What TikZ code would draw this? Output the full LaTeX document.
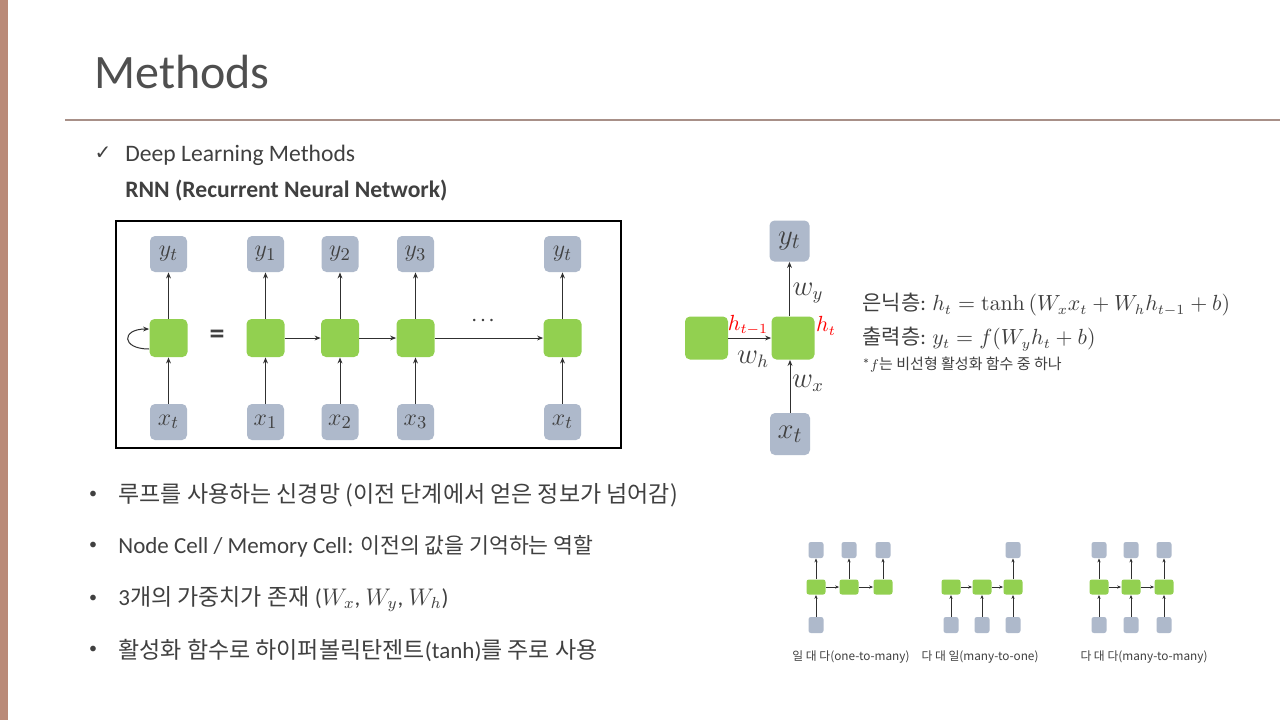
\documentclass[tikz,border=0pt]{standalone}
\usepackage[no-math]{fontspec}
\setmainfont{Carlito}
\newfontfamily\kr{Noto Sans CJK KR}
\newfontfamily\symb{DejaVu Sans}
\usetikzlibrary{arrows.meta,positioning}
\definecolor{sidebar}{HTML}{BA8A78}
\definecolor{rule}{HTML}{A89088}
\definecolor{boxgray}{HTML}{AEB9CB}
\definecolor{cellgreen}{HTML}{92D050}
\definecolor{txt}{HTML}{404040}
\definecolor{titlegray}{HTML}{4F4F4F}
\definecolor{arrowgray}{HTML}{303030}
\newcommand{\fs}[1]{\fontsize{#1}{#1}\selectfont}

\begin{document}
\begin{tikzpicture}[x=0.5pt, y=-0.5pt, text=txt,
    io/.style={rectangle, rounded corners=2.5pt, fill=boxgray, minimum width=18.5pt, minimum height=18pt, inner sep=0pt},
    cell/.style={rectangle, rounded corners=2.5pt, fill=cellgreen, minimum width=19pt, minimum height=19pt, inner sep=0pt},
    flow/.style={-{Stealth[length=3pt,width=2.4pt]}, draw=arrowgray, line width=0.5pt},
    tiny io/.style={io, minimum width=7.5pt, minimum height=8pt, rounded corners=1.2pt},
    tiny cell/.style={cell, minimum width=9.5pt, minimum height=7.5pt, rounded corners=1.2pt},
    tiny flow/.style={-{Stealth[length=2pt,width=1.6pt]}, draw=arrowgray, line width=0.4pt},
    item/.style={anchor=west, inner sep=0pt, font=\fs{11.5}}]
  \useasboundingbox (0,0) rectangle (1280,720);
  \fill[white] (0,0) rectangle (1280,720);
  % side bar and title
  \fill[sidebar] (0,0) rectangle (8,720);
  \node[anchor=west, inner sep=0pt, text=titlegray, font=\fs{24}] (title) at (94,72) {Methods};
  \draw[rule, line width=0.6pt] (65,120) -- (1280,120);
  \node[inner sep=0pt, font=\symb\fs{10}] (check) at (103,153) {✓};
  \node[item, font=\fs{11.8}] (dl) at (125,155) {Deep Learning Methods};
  \node[item, font=\fs{11.8}\bfseries] (rnn) at (125,191) {RNN (Recurrent Neural Network)};

  % folded / unfolded RNN
  \draw[black, line width=0.6pt] (116,221) rectangle (621,448);
  \begin{scope}[every node/.append style={font=\fs{12.5}}]
    \node[io] (yL) at (168.5,254) {$y_t$};
    \node[cell] (hL) at (168.5,338) {};
    \node[io] (xL) at (168.5,422) {$x_t$};
    \draw[flow] (xL) -- (hL);
    \draw[flow] (hL) -- (yL);
    \draw[flow] ([yshift=-5.5pt]hL.west) .. controls +(-14pt,0) and +(-14pt,0) .. ([yshift=4.5pt]hL.west);
    \node[font=\fs{15}\bfseries] (eq) at (217,337) {=};
    \foreach \i/\px/\lab in {1/265.5/1, 2/340/2, 3/415.5/3, 4/562.5/t} {
      \node[io] (y\i) at (\px,254) {$y_{\lab}$};
      \node[cell] (h\i) at (\px,338) {};
      \node[io] (x\i) at (\px,422) {$x_{\lab}$};
      \draw[flow] (x\i) -- (h\i);
      \draw[flow] (h\i) -- (y\i);
    }
    \draw[flow] (h1) -- (h2);
    \draw[flow] (h2) -- (h3);
    \draw[flow] (h3) -- (h4);
    \node[font=\fs{8}\boldmath] (dots) at (483,321) {$\cdots$};
  \end{scope}

  % single cell with weights
  \begin{scope}[every node/.append style={font=\fs{15}}]
    \node[io, minimum width=20pt, minimum height=20.5pt] (yR) at (789.5,241) {$y_t$};
    \node[cell, minimum size=21.5pt] (hR) at (793,338) {};
    \node[cell, minimum size=21.5pt] (hP) at (706.5,338) {};
    \node[io, minimum width=20pt, minimum height=21pt] (xR) at (790,434) {$x_t$};
  \end{scope}
  \draw[flow] (xR.north) -- (xR.north |- hR.south);
  \draw[flow] (yR.south |- hR.north) -- (yR.south);
  \draw[flow] (hP) -- (hR);
  \node[font=\fs{13.5}] (wy) at (808,293) {$w_y$};
  \node[font=\fs{13.5}] (wh) at (753,359) {$w_h$};
  \node[font=\fs{13.5}] (wx) at (808,383) {$w_x$};
  \node[font=\fs{10.5}, text=red] (hprev) at (748,325) {$h_{t-1}$};
  \node[font=\fs{10.5}, text=red] (hnow) at (826,326) {$h_t$};

  % equations
  \node[item, font=\fs{10.5}] (eqh) at (862,305) {{\kr 은닉층}: $h_t = \tanh\left(W_x x_t + W_h h_{t-1} + b\right)$};
  \node[item, font=\fs{10.5}] (eqy) at (862,339) {{\kr 출력층}: $y_t = f\bigl(W_y h_t + b\bigr)$};
  \node[item, font=\fs{7.5}] (note) at (862,365) {*$f${\kr 는 비선형 활성화 함수 중 하나}};

  % bullet list
  \foreach \yy in {495,546,599,650}
    \node[inner sep=0pt, font=\fs{8}] at (93,\yy) {•};
  \node[item] (b1) at (118,495) {\kr 루프를 사용하는 신경망 (이전 단계에서 얻은 정보가 넘어감)};
  \node[item] (b2) at (118,546) {Node Cell / Memory Cell: {\kr\fs{10.8}이전의 값을 기억하는 역할}};
  \node[item] (b3) at (118,599) {3{\kr 개의 가중치가 존재} ($W_x$,\ $W_y$,\ $W_h$)};
  \node[item] (b4) at (118,650) {{\kr 활성화 함수로 하이퍼볼릭탄젠트}(tanh){\kr 를 주로 사용}};

  % one-to-many
  \foreach \i/\px in {1/816,2/849,3/883} {
    \node[tiny io] (oy\i) at (\px,550) {};
    \node[tiny cell] (oh\i) at (\px,587) {};
    \draw[tiny flow] (oh\i) -- (oy\i);
  }
  \node[tiny io] (ox1) at (816,625) {};
  \draw[tiny flow] (ox1) -- (oh1);
  \draw[tiny flow] (oh1) -- (oh2);
  \draw[tiny flow] (oh2) -- (oh3);
  % many-to-one
  \foreach \i/\px in {1/951,2/982,3/1013} {
    \node[tiny cell] (mh\i) at (\px,587) {};
    \node[tiny io] (mx\i) at (\px,625) {};
    \draw[tiny flow] (mx\i) -- (mh\i);
  }
  \node[tiny io] (my3) at (1013,550) {};
  \draw[tiny flow] (mh3) -- (my3);
  \draw[tiny flow] (mh1) -- (mh2);
  \draw[tiny flow] (mh2) -- (mh3);
  % many-to-many
  \foreach \i/\px in {1/1099,2/1131,3/1164} {
    \node[tiny io] (ny\i) at (\px,550) {};
    \node[tiny cell] (nh\i) at (\px,587) {};
    \node[tiny io] (nx\i) at (\px,625) {};
    \draw[tiny flow] (nx\i) -- (nh\i);
    \draw[tiny flow] (nh\i) -- (ny\i);
  }
  \draw[tiny flow] (nh1) -- (nh2);
  \draw[tiny flow] (nh2) -- (nh3);
  \begin{scope}[every node/.append style={font=\kr\fs{5.9}, inner sep=0pt}]
    \node (lab1) at (851,657) {일 대 다(one-to-many)};
    \node (lab2) at (980,657) {다 대 일(many-to-one)};
    \node (lab3) at (1144,657) {다 대 다(many-to-many)};
  \end{scope}
\end{tikzpicture}
\end{document}
